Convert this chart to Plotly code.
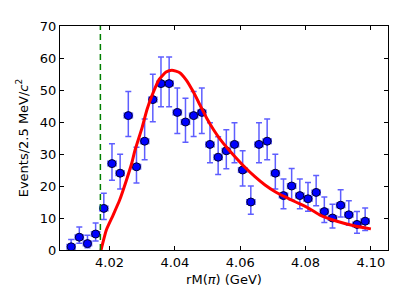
import plotly.graph_objects as go

# Data
bin_centers = [4.00825 + 0.0025 * i for i in range(37)]
counts = [1, 4, 2, 5, 13, 27, 24, 42, 26, 34, 47, 52, 52, 43, 40, 42, 43, 33, 29, 31,
          33, 25, 15, 33, 34, 24, 17, 20, 17, 16, 18, 12, 10, 14, 11, 8, 9]
err_up = [2.3, 3.2, 2.6, 3.4, 4.7, 6.2, 5.9, 7.5, 6.1, 6.9, 7.9, 8.3, 8.3, 7.6, 7.4, 7.5, 7.6, 6.8, 6.4, 6.6,
          6.8, 6.0, 5.0, 6.8, 6.9, 5.9, 5.2, 5.5, 5.2, 5.1, 5.3, 4.6, 4.3, 4.8, 4.4, 4.0, 4.1]
err_dn = [0.8, 1.9, 1.3, 2.2, 3.5, 5.2, 4.9, 6.5, 5.1, 5.8, 6.9, 7.2, 7.2, 6.6, 6.3, 6.5, 6.6, 5.7, 5.4, 5.6,
          5.7, 5.0, 3.8, 5.7, 5.8, 4.9, 4.1, 4.4, 4.1, 3.9, 4.2, 3.4, 3.1, 3.7, 3.3, 2.8, 2.9]
half_bin = [0.00125] * 37

curve_x = [4.0174, 4.0190, 4.0211, 4.0231, 4.0252, 4.0268, 4.0278, 4.0299, 4.0315, 4.0331,
           4.0352, 4.0373, 4.0391, 4.0415, 4.0435, 4.0456, 4.0477, 4.0498, 4.0519, 4.0540,
           4.0561, 4.0582, 4.0613, 4.0645, 4.0676, 4.0707, 4.0739, 4.0770, 4.0802, 4.0843,
           4.0896, 4.0948, 4.1000]
curve_y = [0.0, 6.2, 10.9, 15.6, 21.9, 27.1, 31.2, 38.0, 44.0, 48.5,
           53.3, 55.6, 56.2, 55.4, 53.1, 49.5, 45.3, 41.1, 37.5, 34.4,
           31.8, 29.4, 26.0, 22.9, 20.3, 18.2, 16.5, 15.0, 13.5, 11.0,
           9.0, 7.6, 6.6]

threshold = 4.0172
x_ticks = [4.02, 4.04, 4.06, 4.08, 4.10]
x_tick_labels = ["4.02", "4.04", "4.06", "4.08", "4.10"]
y_ticks = [0, 10, 20, 30, 40, 50, 60, 70]

FONT = "DejaVu Sans"

fig = go.Figure()

fig.add_trace(go.Scatter(
    x=bin_centers, y=counts, mode="markers",
    marker=dict(color="#0000ff", size=8, line=dict(color="#000033", width=1)),
    error_y=dict(type="data", symmetric=False, array=err_up, arrayminus=err_dn,
                 color="rgba(40,40,255,0.75)", thickness=1.5, width=3),
    error_x=dict(type="data", array=half_bin,
                 color="rgba(40,40,255,0.75)", thickness=1.5, width=3),
    showlegend=False,
))

fig.add_trace(go.Scatter(
    x=curve_x, y=curve_y, mode="lines",
    line=dict(color="#ff0000", width=3, shape="spline", smoothing=0.5),
    showlegend=False,
))

fig.add_vline(x=threshold, line=dict(color="#008000", width=1.5, dash="6px,4px"))

axis_common = dict(
    showline=True, linecolor="black", linewidth=1, mirror="ticks",
    ticks="inside", ticklen=4, tickwidth=1, tickcolor="black",
    showgrid=False, zeroline=False, automargin=False,
    tickfont=dict(family=FONT, size=13, color="black"),
)

fig.update_xaxes(range=[4.00484, 4.10524], tickvals=x_ticks, ticktext=x_tick_labels,
                 title=dict(text="rM(<i>π</i>) (GeV)", font=dict(family=FONT, size=13, color="black"),
                            standoff=6),
                 **axis_common)
fig.update_yaxes(range=[0, 70], tickvals=y_ticks,
                 title=dict(text="Events/2.5 MeV/<i>c</i><sup>2</sup>",
                            font=dict(family=FONT, size=13, color="black"), standoff=8),
                 **axis_common)

# the page body adds an 8px offset, so the figure is 8px smaller with margins shifted
fig.update_layout(
    width=391, height=291,
    margin=dict(l=52, r=11, t=18, b=49),
    plot_bgcolor="white", paper_bgcolor="white",
    font=dict(family=FONT, size=13, color="black"),
)

fig.write_html("out.html")
